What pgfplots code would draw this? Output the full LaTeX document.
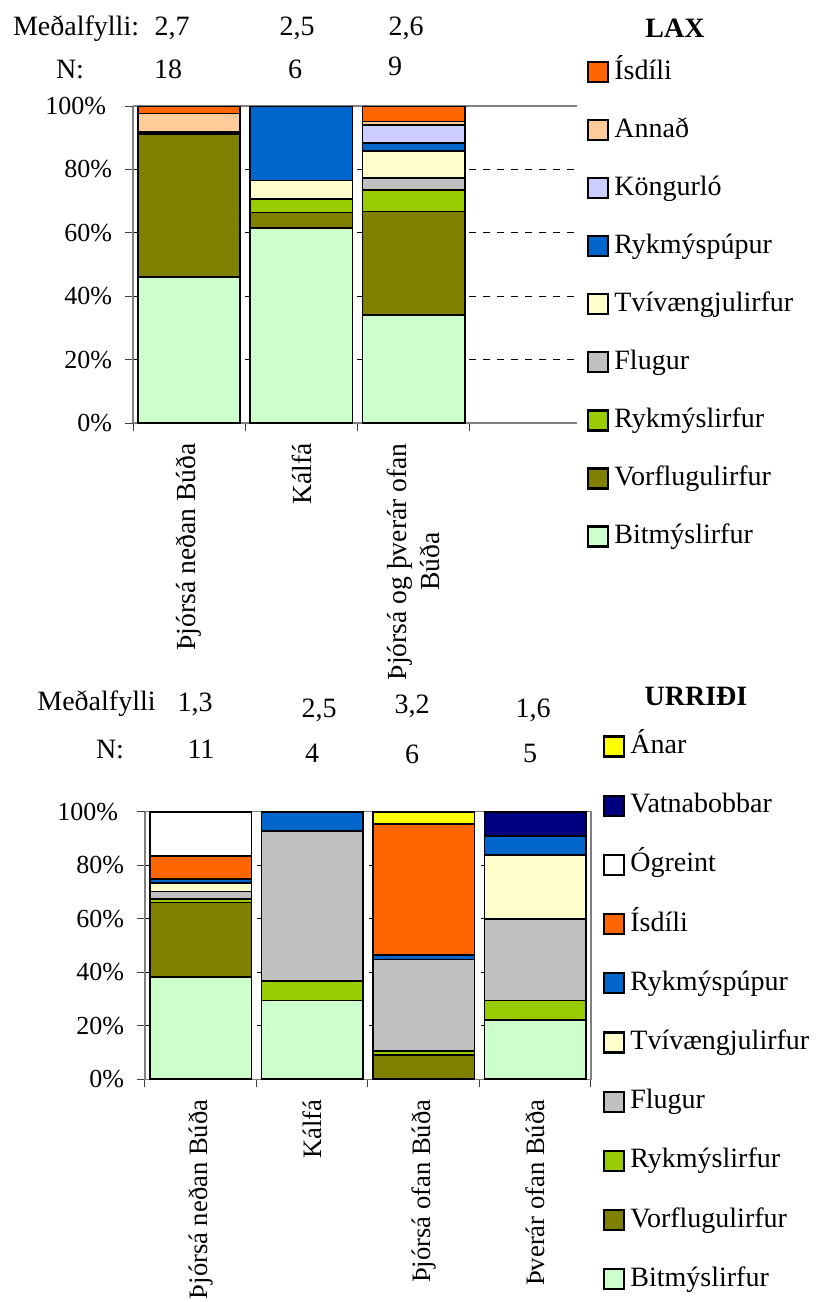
\documentclass[border=0pt]{standalone}
\usepackage{fontspec}
\setmainfont{Liberation Serif}
\usepackage{pgfplots}
\pgfplotsset{compat=1.18}
\definecolor{cBit}{HTML}{CCFFCC}
\definecolor{cVor}{HTML}{808000}
\definecolor{cRyl}{HTML}{99CC00}
\definecolor{cFlu}{HTML}{C0C0C0}
\definecolor{cTvi}{HTML}{FFFFCC}
\definecolor{cRyp}{HTML}{0066CC}
\definecolor{cKon}{HTML}{CCCCFF}
\definecolor{cAnn}{HTML}{FFCC99}
\definecolor{cIsd}{HTML}{FF6600}
\definecolor{cOgr}{HTML}{FFFFFF}
\definecolor{cVat}{HTML}{000080}
\definecolor{cAna}{HTML}{FFFF00}
\newcommand{\hf}{\fontsize{14}{16}\selectfont}
\pgfplotsset{mystack/.style={
  ybar stacked, bar width=0.91, scale only axis, enlargelimits=false,
  ymin=0, ymax=100,
  ytick={0,20,40,60,80}, yticklabels={0\%,20\%,40\%,60\%,80\%},
  yticklabel style={font=\fontsize{13}{15}\selectfont, xshift=-3pt},
  xtick={-0.5,0.5,1.5,2.5,3.5}, xticklabels={},
  tick align=outside, major tick length=4pt,
  tick pos=left,
  tick style={black!75, line width=0.5pt},
  axis line style={gray, line width=0.6pt},
  ymajorgrids,
  major grid style={black, line width=0.4pt, dash pattern=on 3.5pt off 3.5pt},
  every axis plot/.append style={draw=black, line width=0.85pt},
  legend image code/.code={\draw[#1, line width=1.1pt] (0pt,-5pt) rectangle (10pt,5pt);},
  reverse legend,
}}
\begin{document}
\begin{tikzpicture}
\useasboundingbox (0,0) rectangle (408.5pt,-651pt);
% ---------------- LAX ----------------
\begin{axis}[mystack,
  at={(66.5pt,-211.5pt)}, anchor=south west,
  width=222pt, height=158.5pt,
  xmin=-0.5, xmax=3.454,
  axis x line*=bottom, axis y line*=left,
  extra x ticks={0,1,2},
  extra x tick labels={{Þjórsá neðan Búða},{Kálfá},{Þjórsá og þverár ofan\\Búða}},
  extra x tick style={major tick length=0pt, grid=none,
     xticklabel style={rotate=90, anchor=east, align=center, inner sep=0pt,
     font=\fontsize{13.8}{16.5}\selectfont, xshift=-10pt}},
  extra y ticks={100}, extra y tick labels={100\%},
  extra y tick style={major grid style={gray, solid, line width=0.7pt},
     yticklabel style={font=\fontsize{13}{15}\selectfont, xshift=-3pt}},
  legend style={at={(1.0225,1.1987)}, anchor=north west, draw=none, fill=none,
     inner sep=0pt, outer sep=0pt, row sep=0pt, column sep=2.6pt, font=\hf,
     cells={anchor=west},
     nodes={inner sep=0pt, minimum height=29.03pt, text height=10pt, text depth=3pt}},
]
\addplot[fill=cBit] coordinates {(0,46.0) (1,61.6) (2,34.0)};
\addlegendentry{Bitmýslirfur}
\addplot[fill=cVor] coordinates {(0,45.1) (1,4.8) (2,32.7)};
\addlegendentry{Vorflugulirfur}
\addplot[fill=cRyl] coordinates {(0,0.4) (1,4.2) (2,6.8)};
\addlegendentry{Rykmýslirfur}
\addplot[fill=cFlu] coordinates {(0,0.4) (1,0) (2,3.7)};
\addlegendentry{Flugur}
\addplot[fill=cTvi] coordinates {(0,0) (1,5.9) (2,8.6)};
\addlegendentry{Tvívængjulirfur}
\addplot[fill=cRyp] coordinates {(0,0) (1,23.5) (2,2.6)};
\addlegendentry{Rykmýspúpur}
\addplot[fill=cKon] coordinates {(0,0) (1,0) (2,5.7)};
\addlegendentry{Köngurló}
\addplot[fill=cAnn] coordinates {(0,5.7) (1,0) (2,1.0)};
\addlegendentry{Annað}
\addplot[fill=cIsd] coordinates {(0,2.4) (1,0) (2,4.9)};
\addlegendentry{Ísdíli}
\end{axis}
% ---------------- URRIÐI ----------------
\begin{axis}[mystack,
  at={(72.5pt,-539.65pt)}, anchor=south west,
  width=223pt, height=133.8pt,
  xmin=-0.5, xmax=3.5,
  extra x ticks={0,1,2,3},
  extra x tick labels={{Þjórsá neðan Búða},{Kálfá},{Þjórsá ofan Búða},{Þverár ofan Búða}},
  extra x tick style={major tick length=0pt, grid=none,
     xticklabel style={rotate=90, anchor=east, align=center, inner sep=0pt,
     font=\fontsize{13.3}{15.5}\selectfont, xshift=-10pt}},
  extra y ticks={100}, extra y tick labels={100\%},
  extra y tick style={major grid style={draw=none},
     yticklabel style={font=\fontsize{13}{15}\selectfont, xshift=-3pt}},
  legend style={at={(1.0269,1.3543)}, anchor=north west, draw=none, fill=none,
     inner sep=0pt, outer sep=0pt, row sep=0pt, column sep=2.6pt, font=\hf,
     cells={anchor=west},
     nodes={inner sep=0pt, minimum height=29.6pt, text height=10pt, text depth=3pt}},
]
\addplot[fill=cBit] coordinates {(0,38.2) (1,29.4) (2,0) (3,22.1)};
\addlegendentry{Bitmýslirfur}
\addplot[fill=cVor] coordinates {(0,27.9) (1,0) (2,9.2) (3,0)};
\addlegendentry{Vorflugulirfur}
\addplot[fill=cRyl] coordinates {(0,1.2) (1,7.4) (2,1.5) (3,7.3)};
\addlegendentry{Rykmýslirfur}
\addplot[fill=cFlu] coordinates {(0,2.9) (1,56.0) (2,34.1) (3,30.6)};
\addlegendentry{Flugur}
\addplot[fill=cTvi] coordinates {(0,3.2) (1,0) (2,0) (3,23.8)};
\addlegendentry{Tvívængjulirfur}
\addplot[fill=cRyp] coordinates {(0,1.4) (1,7.2) (2,1.7) (3,7.0)};
\addlegendentry{Rykmýspúpur}
\addplot[fill=cIsd] coordinates {(0,8.7) (1,0) (2,49.0) (3,0)};
\addlegendentry{Ísdíli}
\addplot[fill=cOgr] coordinates {(0,16.5) (1,0) (2,0) (3,0)};
\addlegendentry{Ógreint}
\addplot[fill=cVat] coordinates {(0,0) (1,0) (2,0) (3,9.2)};
\addlegendentry{Vatnabobbar}
\addplot[fill=cAna] coordinates {(0,0) (1,0) (2,4.5) (3,0)};
\addlegendentry{Ánar}
\end{axis}
% ---------------- header texts ----------------
\begin{scope}[every node/.style={font=\hf, inner sep=0pt}]
\node[anchor=base west] at (6.35pt,-17.5pt) {Meðalfylli:};
\node[anchor=base] at (86pt,-17.5pt) {2,7};
\node[anchor=base] at (148.5pt,-17.5pt) {2,5};
\node[anchor=base] at (203pt,-17.5pt) {2,6};
\node[anchor=base] at (35pt,-39pt) {N:};
\node[anchor=base] at (84pt,-39pt) {18};
\node[anchor=base] at (147.5pt,-39pt) {6};
\node[anchor=base] at (197.5pt,-37.5pt) {9};
\node[anchor=base] at (337.5pt,-18.5pt) {\bfseries LAX};
\node[anchor=base west] at (18.5pt,-355pt) {Meðalfylli};
\node[anchor=base] at (97.5pt,-355.5pt) {1,3};
\node[anchor=base] at (159.5pt,-358.5pt) {2,5};
\node[anchor=base] at (206pt,-356.5pt) {3,2};
\node[anchor=base] at (266.5pt,-358.5pt) {1,6};
\node[anchor=base] at (55pt,-379pt) {N:};
\node[anchor=base] at (100.5pt,-379pt) {11};
\node[anchor=base] at (156pt,-381pt) {4};
\node[anchor=base] at (206pt,-381.5pt) {6};
\node[anchor=base] at (265pt,-381pt) {5};
\node[anchor=base] at (348pt,-352.5pt) {\bfseries URRIÐI};
\end{scope}
\end{tikzpicture}
\end{document}
